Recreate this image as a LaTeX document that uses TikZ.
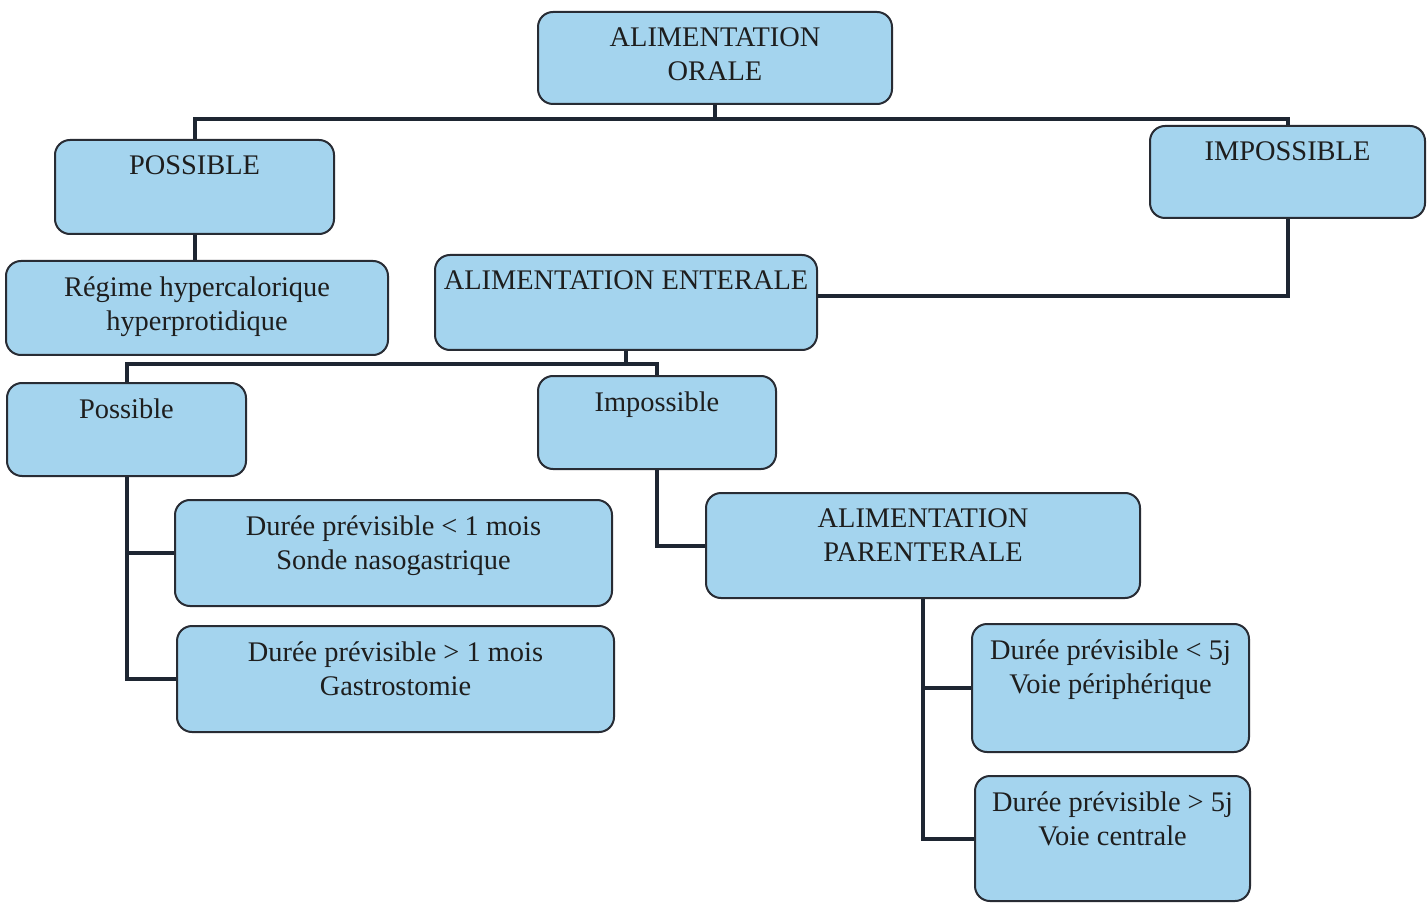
\documentclass[tikz,border=0pt]{standalone}
\usepackage{fontspec}
\setmainfont{Liberation Serif}
\definecolor{boxfill}{RGB}{164,212,238}
\definecolor{boxline}{RGB}{40,44,52}
\definecolor{linkc}{RGB}{30,38,50}
\definecolor{txt}{RGB}{30,30,30}
% a rounded box given by its left, top, right and bottom edges, text set at its top
\newcommand\flowbox[6]{%
  \node[box, minimum width={(#4-#2)*0.5pt}, minimum height={(#5-#3)*0.5pt},
        label={[boxtext]north:{#6}}] (#1) at ({(#2+#4)/2},{(#3+#5)/2}) {};}
\begin{document}
\begin{tikzpicture}[x=0.5pt,y=-0.5pt,
  box/.style={draw=boxline, line width=1pt, fill=boxfill, rounded corners=7.5pt, inner sep=0pt},
  boxtext/.style={font=\fontsize{14.2}{17.3}\selectfont, align=center, inner sep=0pt,
              text=txt, anchor=north, yshift=-8pt},
  link/.style={draw=linkc, line width=2pt}]
\useasboundingbox[fill=white] (0,0) rectangle (1428,903);

\flowbox{orale}{538}{12}{892}{104}{ALIMENTATION\\ORALE}
\flowbox{poss}{55}{140}{334}{234}{POSSIBLE}
\flowbox{imposs}{1150}{126}{1425}{218}{IMPOSSIBLE}
\flowbox{regime}{6}{261}{388}{355}{Régime hypercalorique\\hyperprotidique}
\flowbox{enterale}{435}{255}{817}{350}{ALIMENTATION ENTERALE}
\flowbox{posssm}{7}{383}{246}{476}{Possible}
\flowbox{impsm}{538}{376}{776}{469}{Impossible}
\flowbox{dA}{175}{500}{612}{606}{Durée prévisible < 1 mois\\Sonde nasogastrique}
\flowbox{dB}{177}{626}{614}{732}{Durée prévisible > 1 mois\\Gastrostomie}
\flowbox{paren}{706}{493}{1140}{598}{ALIMENTATION\\PARENTERALE}
\flowbox{vA}{972}{624}{1249}{752}{Durée prévisible < 5j\\Voie périphérique}
\flowbox{vB}{975}{776}{1250}{901}{Durée prévisible > 5j\\Voie centrale}

\draw[link] (orale.south) -- ++(0,16);
\draw[link] (poss.north) -- ++(0,-20) -| (imposs.north);
\draw[link] (poss.south) -- (poss.south |- regime.north);
\draw[link] (imposs.south) |- ([yshift=3pt]enterale.east);
\draw[link] (enterale.south) -- ++(0,15);
\draw[link] (posssm.north) -- ++(0,-18) -| (impsm.north);
\draw[link] (posssm.south) |- (dB.west);
\draw[link] (posssm.south |- dA.west) -- (dA.west);
\draw[link] (impsm.south) |- (paren.west);
\draw[link] (paren.south) |- (vB.west);
\draw[link] (paren.south |- vA.west) -- (vA.west);
\end{tikzpicture}
\end{document}
